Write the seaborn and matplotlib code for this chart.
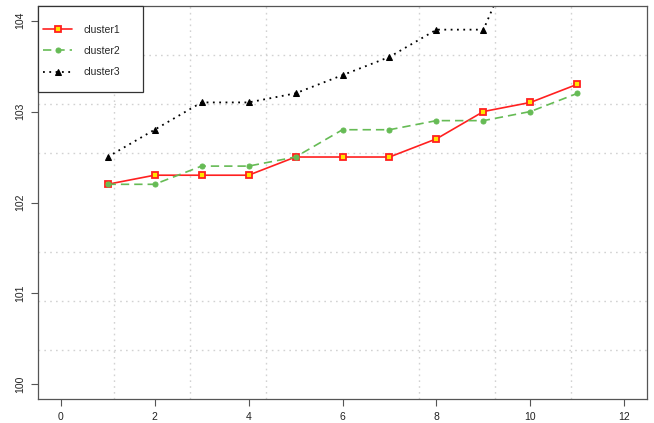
import numpy as np
import pandas as pd
import matplotlib
matplotlib.use("Agg")
import matplotlib.pyplot as plt
from matplotlib.patches import Rectangle
import seaborn as sns

# Series values
x_vals = [1, 2, 3, 4, 5, 6, 7, 8, 9, 10, 11]
cluster1 = [102.2, 102.3, 102.3, 102.3, 102.5, 102.5, 102.5, 102.7, 103.0, 103.1, 103.3]
cluster2 = [102.2, 102.2, 102.4, 102.4, 102.5, 102.8, 102.8, 102.9, 102.9, 103.0, 103.2]
cluster3 = [102.5, 102.8, 103.1, 103.1, 103.2, 103.4, 103.6, 103.9, 103.9, 105.1, 105.3]
series_names = ["cluster1", "cluster2", "cluster3"]
x_ticks = [0, 2, 4, 6, 8, 10, 12]
y_ticks = [100, 101, 102, 103, 104]

sns.set_style("white")
plt.rcParams["font.family"] = ["Liberation Sans", "DejaVu Sans"]

W, H = 654, 423
fig = plt.figure(figsize=(W / 100, H / 100), dpi=100)
ax = fig.add_axes([38 / W, 1 - 399 / H, (647 - 38) / W, (399 - 6) / H])

df = pd.DataFrame({"x": x_vals * 3,
                   "y": cluster1 + cluster2 + cluster3,
                   "series": sum([[n] * len(x_vals) for n in series_names], [])})

styles = {
    "cluster1": dict(color="#FF2020", linestyle="-", marker="s", markersize=4.2,
                     markerfacecolor="#FFE600", markeredgecolor="#FF2020",
                     markeredgewidth=1.3, linewidth=1.2),
    "cluster2": dict(color="#66BB55", linestyle=(0, (5, 3)), marker="o", markersize=3.6,
                     markerfacecolor="#66BB55", markeredgecolor="#66BB55", linewidth=1.2),
    "cluster3": dict(color="black", linestyle=(0, (1, 2.5)), marker="^", markersize=4.2,
                     markerfacecolor="black", markeredgecolor="black", linewidth=1.3),
}
for name in series_names:
    sub = df[df["series"] == name]
    sns.lineplot(data=sub, x="x", y="y", ax=ax, label=name, **styles[name])

# axis ranges with 4% padding
x0, x1 = 0, 12
y0, y1 = 100, 104
dx = (x1 - x0) * 0.04
dy = (y1 - y0) * 0.04
ax.set_xlim(x0 - dx, x1 + dx)
ax.set_ylim(y0 - dy, y1 + dy)

ax.set_xticks(x_ticks)
ax.set_yticks(y_ticks)
ax.set_yticklabels([str(v) for v in y_ticks], rotation=90, va="center")
ax.tick_params(axis="both", which="major", direction="out", length=5, width=0.8,
               color="#555555", labelsize=7.5, labelcolor="#222222", pad=4,
               bottom=True, left=True)

# evenly spaced dotted grid over the full plotting range
gx = np.linspace(x0 - dx, x1 + dx, 9)[1:-1]
gy = np.linspace(y0 - dy, y1 + dy, 9)[1:-1]
ax.set_xticks(gx, minor=True)
ax.set_yticks(gy, minor=True)
ax.tick_params(which="minor", length=0)
ax.grid(False)
ax.grid(which="minor", color="#D2D2D2", linestyle=(0, (1.2, 3)), linewidth=1.0)

ax.set_xlabel("")
ax.set_ylabel("")
for s in ax.spines.values():
    s.set_color("#555555")
    s.set_linewidth(0.9)

# legend box anchored in the top-left corner of the plot
box = Rectangle((38 / W, 1 - 92 / H), (143 - 38) / W, (92 - 6) / H,
                transform=fig.transFigure, facecolor="white", edgecolor="#333333",
                linewidth=0.9, zorder=5)
fig.add_artist(box)
leg = ax.legend(loc="upper left", bbox_to_anchor=(43 / W, 1 - 25 / H),
                bbox_transform=fig.transFigure, frameon=False, borderpad=0,
                borderaxespad=0, fontsize=7.5, handlelength=2.8,
                labelspacing=1.07, handletextpad=1.1)
leg.remove()
fig.add_artist(leg)
leg.set_zorder(6)

fig.savefig("out.png", dpi=100)
